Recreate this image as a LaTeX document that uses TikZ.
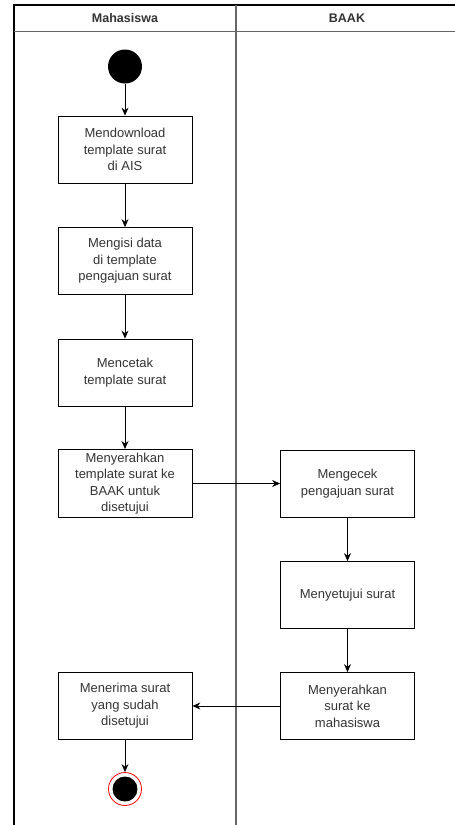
\documentclass[tikz,border=0pt]{standalone}
\usepackage{fontspec}
\setmainfont{Liberation Sans}
\usepackage{xcolor}
\usepackage{tikz}
\usetikzlibrary{arrows.meta}
\definecolor{laneColor}{HTML}{666666}
\definecolor{textColor}{HTML}{333333}

\begin{document}
\begin{tikzpicture}[x=1pt, y=-1pt,
    act/.style={draw, thick, minimum width=134pt, minimum height=67pt,
        align=center, text=textColor, font=\fontsize{13}{16.5}\selectfont},
    lane/.style={font=\bfseries\fontsize{12.5}{15}\selectfont, text=textColor},
    flow/.style={-{Stealth[length=8pt, width=7pt]}, thick}]
    \useasboundingbox (0,0) rectangle (455,825);
    % swimlanes
    \draw[very thick] (14,825) -- (14,5) -- (455,5);
    \draw[very thick, laneColor] (14,31.5) -- (455,31.5);
    \draw[very thick, laneColor] (236,5) -- (236,825);
    \node[lane] (mhs) at (125,18.5) {Mahasiswa};
    \node[lane] (baak) at (347,18.5) {BAAK};
    % start
    \node[circle, fill=black, minimum size=34pt, inner sep=0pt] (start) at (125,66.5) {};
    % Mahasiswa
    \node[act] (download) at (125,149.5) {Mendownload\\template surat\\di AIS};
    \node[act] (isi) at (125,261) {Mengisi data\\di template\\pengajuan surat};
    \node[act] (cetak) at (125,372.5) {Mencetak\\template surat};
    \node[act] (serah) at (125,483.5) {Menyerahkan\\template surat ke\\BAAK untuk\\disetujui};
    % BAAK
    \node[act] (cek) at (347.5,483.5) {Mengecek\\pengajuan surat};
    \node[act] (setuju) at (347.5,595) {Menyetujui surat};
    \node[act] (kirim) at (347.5,706) {Menyerahkan\\surat ke\\mahasiswa};
    \node[act] (terima) at (125,706) {Menerima surat\\yang sudah\\disetujui};
    % end
    \node[circle, draw=red, thick, fill=white, minimum size=33pt, inner sep=0pt] (end) at (125,789) {};
    \fill[black] (end.center) circle (12.5pt);
    % flows
    \draw[flow] (start) -- (download);
    \draw[flow] (download) -- (isi);
    \draw[flow] (isi) -- (cetak);
    \draw[flow] (cetak) -- (serah);
    \draw[flow] (serah) -- (cek);
    \draw[flow] (cek) -- (setuju);
    \draw[flow] (setuju) -- (kirim);
    \draw[flow] (kirim) -- (terima);
    \draw[flow] (terima) -- (end);
\end{tikzpicture}
\end{document}
